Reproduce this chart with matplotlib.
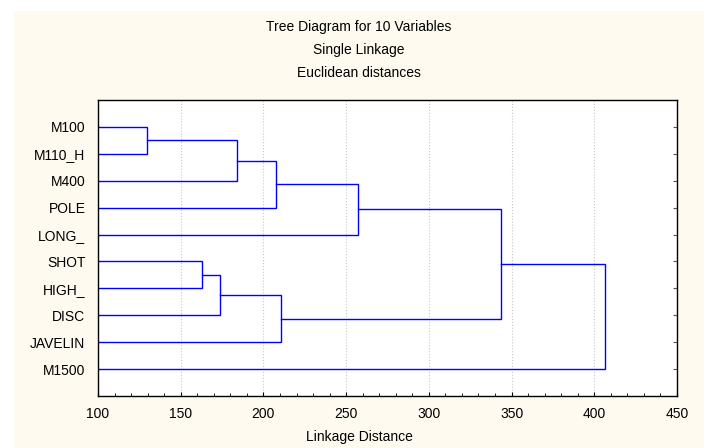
import matplotlib.pyplot as plt
from matplotlib.patches import Rectangle
from matplotlib.ticker import MultipleLocator

# leaves, top to bottom
leaves = ['M100', 'M110_H', 'M400', 'POLE', 'LONG_',
          'SHOT', 'HIGH_', 'DISC', 'JAVELIN', 'M1500']

# merges: (node a, node b, linkage distance); nodes 0-9 are leaves, new nodes start at 10
merge_a = [0, 10, 11, 12, 5, 14, 15, 13, 17]
merge_b = [1, 2, 3, 4, 6, 7, 8, 16, 9]
merge_dist = [129.4, 183.8, 207.4, 257.0, 162.9, 173.9, 210.8, 343.5, 406.7]

plt.rcParams['font.family'] = ['Liberation Sans', 'DejaVu Sans']
fs = 10

fig = plt.figure(figsize=(7.04, 4.48), dpi=100)
fig.patch.set_facecolor('white')
fig.patches.append(Rectangle((14 / 704, 0), 1 - 14 / 704, 1 - 11 / 448,
                             transform=fig.transFigure, facecolor='#fefaf0',
                             edgecolor='none', zorder=-10))

ax = fig.add_axes([98 / 704, 1 - 396 / 448, 579 / 704, 296 / 448])
ax.set_facecolor('white')

# node positions
ypos = {i: i + 1 for i in range(len(leaves))}
xpos = {i: 0.0 for i in range(len(leaves))}
for k, (a, b, d) in enumerate(zip(merge_a, merge_b, merge_dist)):
    node = len(leaves) + k
    ax.plot([xpos[a], d, d, xpos[b]], [ypos[a], ypos[a], ypos[b], ypos[b]],
            color='#0000ff', lw=1.0, solid_joinstyle='miter')
    ypos[node] = (ypos[a] + ypos[b]) / 2
    xpos[node] = d

ax.set_xlim(100, 450)
ax.set_ylim(11, 0)
ax.set_yticks(range(1, len(leaves) + 1))
ax.set_yticklabels(leaves, fontsize=fs)
ax.xaxis.set_major_locator(MultipleLocator(50))
ax.xaxis.set_minor_locator(MultipleLocator(10))
ax.tick_params(axis='x', which='major', direction='in', length=3, labelsize=fs, pad=8)
ax.tick_params(axis='x', which='minor', direction='in', length=2)
ax.tick_params(axis='y', direction='in', length=3, left=False, right=True, pad=9,
               color='#555555')
ax.grid(axis='x', color='#c8c8c8', linestyle=':', lw=0.8)
for s in ax.spines.values():
    s.set_linewidth(1.0)
    s.set_color('black')

fig.text(359 / 704, 1 - 27 / 448, 'Tree Diagram for 10 Variables', ha='center', va='center', fontsize=fs)
fig.text(359 / 704, 1 - 50 / 448, 'Single Linkage', ha='center', va='center', fontsize=fs)
fig.text(359 / 704, 1 - 73 / 448, 'Euclidean distances', ha='center', va='center', fontsize=fs)
fig.text(359 / 704, 1 - 437 / 448, 'Linkage Distance', ha='center', va='center', fontsize=fs)

fig.savefig('out.png', dpi=100, facecolor=fig.get_facecolor())
